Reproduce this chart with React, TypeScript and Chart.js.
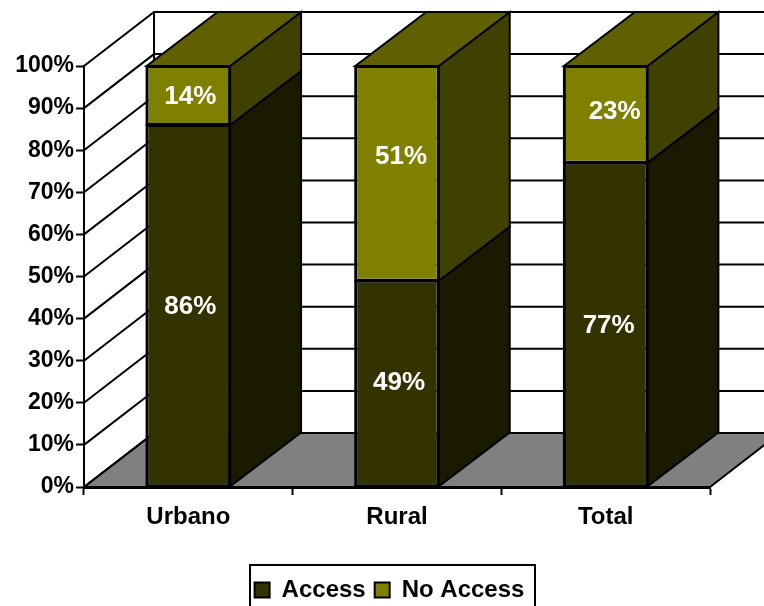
import React, { useEffect, useRef } from "react";
import { Chart, registerables } from "chart.js";

Chart.register(...registerables);

const categories = ["Urbano", "Rural", "Total"];
const accessValues = [86, 49, 77];
const noAccessValues = [14, 51, 23];
const seriesNames = ["Access", "No Access"];

const FONT = "'Liberation Sans', Arial, sans-serif";
const FRONT = ["#333300", "#808000"];
const SIDE = ["#1a1a00", "#404000"];
const TOP = "#606000";
const FLOOR = "#808080";
const WALL_DX = 70;
const DEPTH_DY = 54;
const BAR_DX = 71;
// Hand placement of the value labels relative to the segment centre, by dataset then category.
const LABEL_NUDGE = [
  [[2, 1], [2, -1], [3, 1]],
  [[2, 1], [4, -17], [9, -3]],
];

const depthPlugin = {
  id: "depth3d",
  afterLayout(chart: any) {
    const lg = chart.legend;
    if (lg) {
      const w = lg.right - lg.left;
      lg.left = 389.5 - w / 2;
      lg.right = lg.left + w;
      lg.top = 569;
      lg.bottom = lg.top + lg.height;
    }
  },
  beforeDatasetsDraw(chart: any) {
    const { ctx, scales, chartArea } = chart;
    const y = scales.y;
    const W = chart.width;
    const left = chartArea.left;
    const right = chartArea.right;
    const y0 = y.getPixelForValue(0);
    ctx.save();
    ctx.lineWidth = 2;
    ctx.strokeStyle = "#000";
    // floor
    ctx.beginPath();
    ctx.moveTo(left, y0);
    ctx.lineTo(left + WALL_DX, y0 - DEPTH_DY);
    ctx.lineTo(W + 20, y0 - DEPTH_DY);
    ctx.lineTo(right + WALL_DX, y0 - DEPTH_DY);
    ctx.lineTo(right, y0);
    ctx.closePath();
    ctx.fillStyle = FLOOR;
    ctx.fill();
    ctx.stroke();
    // back wall and side wall grid
    for (const t of y.ticks) {
      const p = y.getPixelForValue(t.value);
      ctx.beginPath();
      ctx.moveTo(left, p);
      ctx.lineTo(left + WALL_DX, p - DEPTH_DY);
      ctx.lineTo(W + 20, p - DEPTH_DY);
      ctx.stroke();
    }
    ctx.beginPath();
    ctx.moveTo(left + WALL_DX, y.getPixelForValue(100) - DEPTH_DY);
    ctx.lineTo(left + WALL_DX, y0 - DEPTH_DY);
    ctx.stroke();
    // bar sides and tops
    const quad = (a: number[], b: number[], c: number[], d: number[], fill: string) => {
      ctx.beginPath();
      ctx.moveTo(a[0], a[1]);
      ctx.lineTo(b[0], b[1]);
      ctx.lineTo(c[0], c[1]);
      ctx.lineTo(d[0], d[1]);
      ctx.closePath();
      ctx.fillStyle = fill;
      ctx.fill();
      ctx.stroke();
    };
    chart.data.datasets.forEach((_: any, di: number) => {
      chart.getDatasetMeta(di).data.forEach((bar: any) => {
        const r = bar.x + bar.width / 2;
        const l = bar.x - bar.width / 2;
        quad([r, bar.base], [r + BAR_DX, bar.base - DEPTH_DY], [r + BAR_DX, bar.y - DEPTH_DY], [r, bar.y], SIDE[di]);
        if (di === chart.data.datasets.length - 1) {
          quad([l, bar.y], [l + BAR_DX, bar.y - DEPTH_DY], [r + BAR_DX, bar.y - DEPTH_DY], [r, bar.y], TOP);
        }
      });
    });
    ctx.restore();
  },
  afterDatasetsDraw(chart: any) {
    const { ctx } = chart;
    ctx.save();
    ctx.strokeStyle = "#000";
    ctx.lineWidth = 2;
    chart.data.datasets.forEach((_: any, di: number) => {
      chart.getDatasetMeta(di).data.forEach((bar: any) => {
        ctx.strokeRect(bar.x - bar.width / 2, bar.y, bar.width, bar.base - bar.y);
      });
    });
    ctx.font = `bold 26px ${FONT}`;
    ctx.fillStyle = "#fff";
    ctx.textAlign = "center";
    ctx.textBaseline = "middle";
    chart.data.datasets.forEach((ds: any, di: number) => {
      chart.getDatasetMeta(di).data.forEach((bar: any, i: number) => {
        const [nx, ny] = LABEL_NUDGE[di][i];
        ctx.fillText(`${ds.data[i]}%`, bar.x + nx, (bar.y + bar.base) / 2 + ny);
      });
    });
    ctx.restore();
  },
  afterDraw(chart: any) {
    const { ctx } = chart;
    ctx.save();
    ctx.strokeStyle = "#000";
    ctx.lineWidth = 2;
    ctx.strokeRect(250, 565, 285, 60);
    ctx.restore();
  },
};

export default function App() {
  const ref = useRef<HTMLCanvasElement>(null);
  useEffect(() => {
    if (!ref.current) return;
    const chart = new Chart(ref.current, {
      type: "bar",
      plugins: [depthPlugin],
      data: {
        labels: categories,
        datasets: [
          { label: seriesNames[0], data: accessValues, backgroundColor: FRONT[0] },
          { label: seriesNames[1], data: noAccessValues, backgroundColor: FRONT[1] },
        ].map((d) => ({
          ...d,
          borderColor: "#000",
          borderWidth: 2,
          borderSkipped: false,
          inflateAmount: 0,
          barPercentage: 0.4,
          categoryPercentage: 1,
        })),
      },
      options: {
        responsive: false,
        animation: false,
        events: [],
        layout: { padding: { top: 66, right: 54, left: 0, bottom: 0 } },
        plugins: {
          tooltip: { enabled: false },
          title: { display: false },
          legend: {
            display: true,
            position: "bottom",
            labels: {
              color: "#000",
              boxWidth: 15,
              boxHeight: 15,
              padding: 9,
              font: { family: FONT, size: 24, weight: "bold" },
            },
          },
        },
        scales: {
          x: {
            stacked: true,
            grid: { drawOnChartArea: false, drawTicks: true, tickLength: 8, tickColor: "#000", tickWidth: 2, offset: true },
            border: { color: "#000", width: 3 },
            ticks: { color: "#000", padding: 8, maxRotation: 0, font: { family: FONT, size: 24, weight: "bold" } },
            afterFit(scale: any) {
              scale.height = 606 - 487 - (scale.chart.legend?.height || 0);
            },
          },
          y: {
            stacked: true,
            min: 0,
            max: 100,
            grid: { drawOnChartArea: false, drawTicks: true, tickLength: 8, tickColor: "#000", tickWidth: 2 },
            border: { color: "#000", width: 2 },
            ticks: {
              stepSize: 10,
              color: "#000",
              padding: 2,
              callback: (v: any) => `${v}%`,
              font: { family: FONT, size: 23, weight: "bold" },
            },
            afterFit(scale: any) {
              scale.width = 84;
            },
          },
        },
      },
    } as any);
    return () => chart.destroy();
  }, []);
  return (
    <div style={{ position: "absolute", left: 0, top: 0, width: 764, height: 606, overflow: "hidden", background: "#fff" }}>
      <canvas ref={ref} width={764} height={606} style={{ display: "block" }} />
    </div>
  );
}
